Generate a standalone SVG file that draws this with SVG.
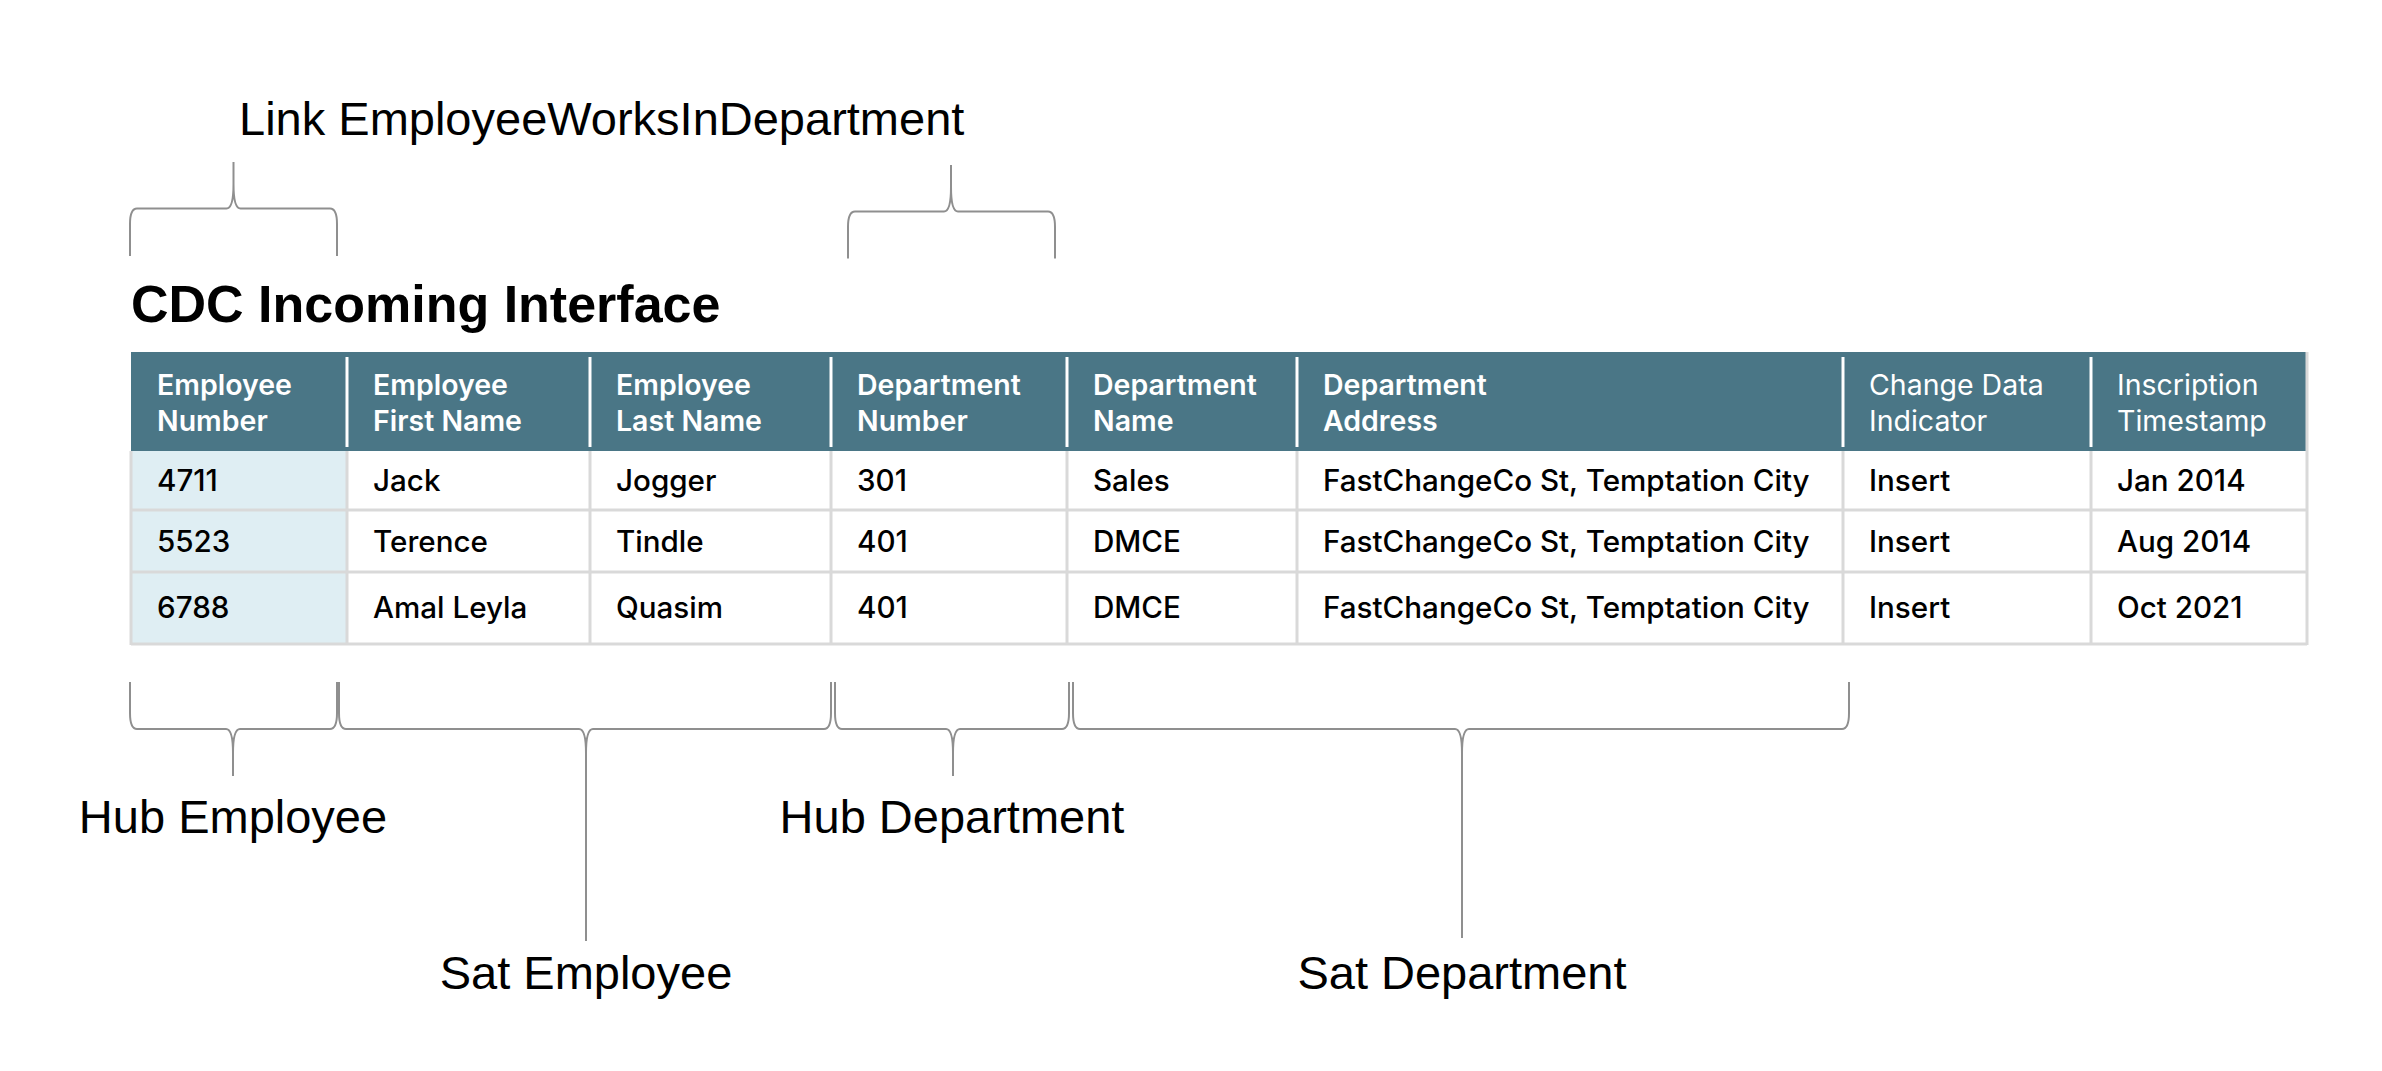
<svg xmlns="http://www.w3.org/2000/svg" width="2382" height="1071" viewBox="0 0 2382 1071">
<style>
.lbl{font-family:"Liberation Sans",Arial,sans-serif;font-size:47px;fill:#000}
.title{font-family:"Liberation Sans",Arial,sans-serif;font-size:52px;font-weight:bold;fill:#000}
.hd{font-family:Inter,"Liberation Sans",sans-serif;font-size:28.5px;font-weight:600;fill:#fff}
.hd2{font-family:Inter,"Liberation Sans",sans-serif;font-size:28.5px;font-weight:400;fill:#fff}
.cell{font-family:Inter,"Liberation Sans",sans-serif;font-size:29.6px;font-weight:500;fill:#000}
.grid{stroke:#d9d9d9;stroke-width:3;fill:none}
.hsep{stroke:#fff;stroke-width:3}
.brace{fill:none;stroke:#8f8f8f;stroke-width:2}
</style>
<rect width="2382" height="1071" fill="#fff"/>

<g id="title">
<text class="title" x="131" y="322">CDC Incoming Interface</text>
</g>

<g id="table">
<rect x="131" y="352" width="2176" height="99" fill="#4a7686"/>
<rect x="131" y="451" width="216" height="193" fill="#dfeef3"/>
<g class="grid">
<line x1="131" y1="510" x2="2307" y2="510"/>
<line x1="131" y1="572" x2="2307" y2="572"/>
<line x1="131" y1="644" x2="2307" y2="644"/>
<line x1="131" y1="451" x2="131" y2="645"/>
<line x1="347" y1="451" x2="347" y2="645"/>
<line x1="590" y1="451" x2="590" y2="645"/>
<line x1="831" y1="451" x2="831" y2="645"/>
<line x1="1067" y1="451" x2="1067" y2="645"/>
<line x1="1297" y1="451" x2="1297" y2="645"/>
<line x1="1843" y1="451" x2="1843" y2="645"/>
<line x1="2091" y1="451" x2="2091" y2="645"/>
<line x1="2307" y1="352" x2="2307" y2="645"/>
</g>
<g class="hsep">
<line x1="347" y1="357" x2="347" y2="447"/>
<line x1="590" y1="357" x2="590" y2="447"/>
<line x1="831" y1="357" x2="831" y2="447"/>
<line x1="1067" y1="357" x2="1067" y2="447"/>
<line x1="1297" y1="357" x2="1297" y2="447"/>
<line x1="1843" y1="357" x2="1843" y2="447"/>
<line x1="2091" y1="357" x2="2091" y2="447"/>
</g>
<g id="header">
<text class="hd" x="157" y="395">Employee</text><text class="hd" x="157" y="431">Number</text>
<text class="hd" x="373" y="395">Employee</text><text class="hd" x="373" y="431">First Name</text>
<text class="hd" x="616" y="395">Employee</text><text class="hd" x="616" y="431">Last Name</text>
<text class="hd" x="857" y="395">Department</text><text class="hd" x="857" y="431">Number</text>
<text class="hd" x="1093" y="395">Department</text><text class="hd" x="1093" y="431">Name</text>
<text class="hd" x="1323" y="395">Department</text><text class="hd" x="1323" y="431">Address</text>
<text class="hd2" x="1869" y="395">Change Data</text><text class="hd2" x="1869" y="431">Indicator</text>
<text class="hd2" x="2117" y="395">Inscription</text><text class="hd2" x="2117" y="431">Timestamp</text>
</g>
<g id="row1">
<text class="cell" x="157" y="491">4711</text>
<text class="cell" x="373" y="491">Jack</text>
<text class="cell" x="616" y="491">Jogger</text>
<text class="cell" x="857" y="491">301</text>
<text class="cell" x="1093" y="491">Sales</text>
<text class="cell" x="1323" y="491">FastChangeCo St, Temptation City</text>
<text class="cell" x="1869" y="491">Insert</text>
<text class="cell" x="2117" y="491">Jan 2014</text>
</g>
<g id="row2">
<text class="cell" x="157" y="552">5523</text>
<text class="cell" x="373" y="552">Terence</text>
<text class="cell" x="616" y="552">Tindle</text>
<text class="cell" x="857" y="552">401</text>
<text class="cell" x="1093" y="552">DMCE</text>
<text class="cell" x="1323" y="552">FastChangeCo St, Temptation City</text>
<text class="cell" x="1869" y="552">Insert</text>
<text class="cell" x="2117" y="552">Aug 2014</text>
</g>
<g id="row3">
<text class="cell" x="157" y="618">6788</text>
<text class="cell" x="373" y="618">Amal Leyla</text>
<text class="cell" x="616" y="618">Quasim</text>
<text class="cell" x="857" y="618">401</text>
<text class="cell" x="1093" y="618">DMCE</text>
<text class="cell" x="1323" y="618">FastChangeCo St, Temptation City</text>
<text class="cell" x="1869" y="618">Insert</text>
<text class="cell" x="2117" y="618">Oct 2021</text>
</g>
</g>

<g id="connectors">
<path id="brace-link-emp" class="brace" d="M130,256 L130,224 C130,213 133,208.5 137,208.5 L226.5,208.5 C230.5,208.5 233.5,202 233.5,184 L233.5,162 M337,256 L337,224 C337,213 334,208.5 330,208.5 L240.5,208.5 C236.5,208.5 233.5,202 233.5,184"/>
<path id="brace-link-dept" class="brace" d="M848,258.5 L848,227 C848,216 851,211.5 855,211.5 L944,211.5 C948,211.5 951,205 951,187 L951,165 M1055,258.5 L1055,227 C1055,216 1052,211.5 1048,211.5 L958,211.5 C954,211.5 951,205 951,187"/>
<path id="brace-hub-emp" class="brace" d="M130,682 L130,713 C130,724 133,729 137,729 L226,729 C230,729 233,735 233,753 L233,776 M337,682 L337,713 C337,724 334,729 330,729 L240,729 C236,729 233,735 233,753"/>
<path id="brace-sat-emp" class="brace" d="M339,682 L339,713 C339,724 342,729 346,729 L579,729 C583,729 586,735 586,753 L586,941 M831,682 L831,713 C831,724 828,729 824,729 L593,729 C589,729 586,735 586,753"/>
<path id="brace-hub-dept" class="brace" d="M835,682 L835,713 C835,724 838,729 842,729 L946,729 C950,729 953,735 953,753 L953,776 M1069,682 L1069,713 C1069,724 1066,729 1062,729 L960,729 C956,729 953,735 953,753"/>
<path id="brace-sat-dept" class="brace" d="M1073,682 L1073,713 C1073,724 1076,729 1080,729 L1455,729 C1459,729 1462,735 1462,753 L1462,938 M1849,682 L1849,713 C1849,724 1846,729 1842,729 L1469,729 C1465,729 1462,735 1462,753"/>
</g>

<g id="label-link"><text class="lbl" x="239" y="135">Link EmployeeWorksInDepartment</text></g>
<g id="label-hub-emp"><text class="lbl" x="233" y="833" text-anchor="middle">Hub Employee</text></g>
<g id="label-sat-emp"><text class="lbl" x="586" y="989" text-anchor="middle">Sat Employee</text></g>
<g id="label-hub-dept"><text class="lbl" x="952" y="833" text-anchor="middle">Hub Department</text></g>
<g id="label-sat-dept"><text class="lbl" x="1462" y="989" text-anchor="middle">Sat Department</text></g>
</svg>
